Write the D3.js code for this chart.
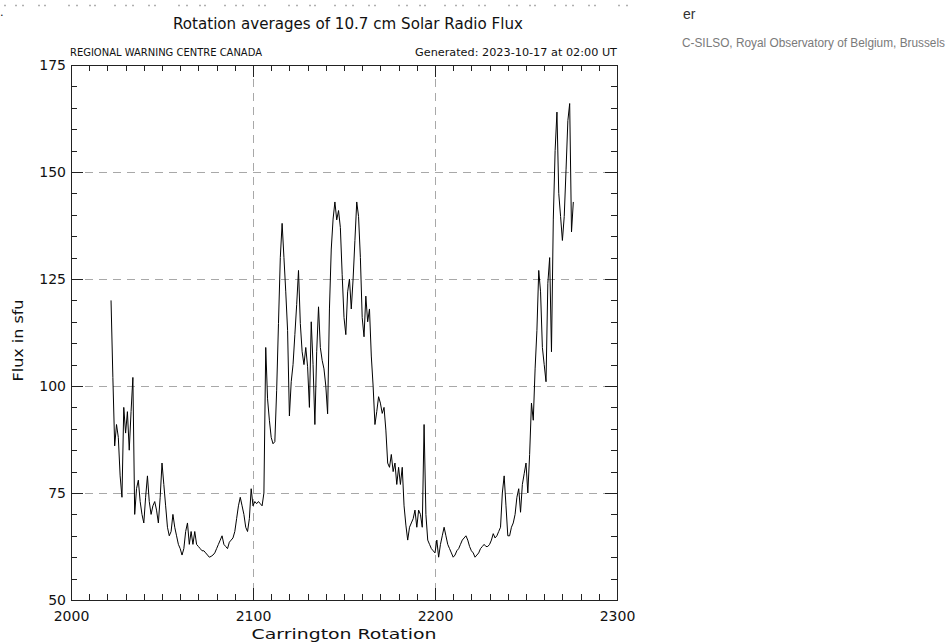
<!DOCTYPE html>
<html>
<head>
<meta charset="utf-8">
<script src="https://cdn.jsdelivr.net/npm/d3@7"></script>
<style>
  html, body { margin: 0; padding: 0; background: #fff; }
  svg { display: block; }
  .idl { font-family: "DejaVu Sans", sans-serif; fill: #111; }
</style>
</head>
<body>
<svg id="chart" width="950" height="643"></svg>
<script>
// Rotation-averaged 10.7 cm solar radio flux, one value per Carrington rotation
const firstRotation = 2022;
const fluxValues = [
  120, 102, 86, 91, 88, 79, 74, 95, 89, 94, 85, 94, 102, 70, 76, 78, 73, 70, 68, 74,
  79, 73, 70, 72, 73, 71, 68, 74, 82, 77, 72, 67, 65, 66, 70, 67, 65, 63, 62, 60.5,
  62, 66, 68, 63, 66, 63, 66, 63, 62.5, 62, 61.5, 61.5, 61, 60.5, 60, 60.2, 60.5, 61, 62, 63,
  64, 65, 63, 62.5, 62, 63.5, 64, 64.5, 66, 69, 72, 74, 72, 70, 67, 66, 69, 76, 72, 73,
  72.5, 73, 72.5, 72, 75, 109, 97, 92, 88, 86.5, 87, 99, 114.6, 130, 138, 130, 122, 113, 93, 101,
  105, 112, 119, 127, 114.6, 108, 105, 109, 104.5, 95, 115, 105, 91, 108, 118.5, 109, 106, 104, 100, 93.5,
  118, 132, 139, 143, 138.8, 141, 137, 126, 116, 112, 122, 125, 118, 125, 134, 143, 139.6, 130, 116, 111.5,
  121, 115, 118, 107, 100, 91, 94, 97.5, 96, 93.6, 95, 89.7, 82, 81, 84, 80, 82, 77, 81, 77,
  81, 72, 67.5, 64, 67, 68, 69, 71, 67, 71, 70, 67, 91, 70, 64, 63, 62, 61.5, 61, 64,
  60, 63, 65, 67, 65, 63, 62, 61, 60, 60.5, 61.5, 62, 63, 64, 64.5, 65, 64, 62.5, 61.5, 61,
  60, 60.5, 61, 62, 62.5, 63, 62.5, 62.5, 63, 64, 65.5, 64.5, 65, 66, 67, 75, 79, 72, 65, 65,
  67, 68, 70, 74, 76, 70.5, 77, 79.5, 82, 75, 84, 96, 92, 104, 113, 127, 122, 109, 105, 101,
  124, 130, 108, 139, 155, 164, 145, 139.6, 134, 139.6, 150.5, 162, 166, 136, 143
];

// Axis ranges and labelled ticks
const rotationDomain = [2000, 2300];
const fluxDomain = [50, 175];
const rotationTickLabels = [2000, 2100, 2200, 2300];
const fluxTickLabels = [50, 75, 100, 125, 150, 175];
const rotationGrid = [2100, 2200];
const fluxGrid = [75, 100, 125, 150];

const titleText = "Rotation averages of 10.7 cm Solar Radio Flux";
const leftCaption = "REGIONAL WARNING CENTRE CANADA";
const rightCaption = "Generated: 2023-10-17 at 02:00 UT";
const xTitle = "Carrington Rotation";
const yTitle = "Flux in sfu";

const series = fluxValues.map((v, i) => ({ rotation: firstRotation + i, flux: v }));

const svg = d3.select("#chart");
const plot = { left: 71, right: 617, top: 65, bottom: 600 };

const x = d3.scaleLinear().domain(rotationDomain).range([plot.left, plot.right]);
const y = d3.scaleLinear().domain(fluxDomain).range([plot.bottom, plot.top]);

// Page fragments around the image: a faint strip along the top edge and side notes
svg.append("line")
  .attr("x1", 4).attr("x2", 628).attr("y1", 5.5).attr("y2", 5.5)
  .attr("stroke", "#b0b0b0").attr("stroke-width", 1.5)
  .attr("stroke-dasharray", "2,9,2,5,2,14,2,4,2,22,2,6,2,11,2,3,2,18");

svg.append("text")
  .attr("x", 0).attr("y", 16)
  .style("font-family", "Arial, 'Liberation Sans', sans-serif")
  .style("font-size", "13px").style("fill", "#222")
  .text(".");

svg.append("text")
  .attr("x", 683).attr("y", 19)
  .style("font-family", "Arial, 'Liberation Sans', sans-serif")
  .style("font-size", "14px").style("fill", "#333")
  .text("er");

svg.append("text")
  .attr("x", 682).attr("y", 47)
  .style("font-family", "Arial, 'Liberation Sans', sans-serif")
  .style("font-size", "12px").style("fill", "#7a7a7a")
  .attr("textLength", 263).attr("lengthAdjust", "spacingAndGlyphs")
  .text("C-SILSO, Royal Observatory of Belgium, Brussels");

// Titles
svg.append("text").attr("class", "idl")
  .attr("x", (plot.left + plot.right) / 2 + 4).attr("y", 29)
  .attr("text-anchor", "middle")
  .attr("textLength", 350).attr("lengthAdjust", "spacingAndGlyphs")
  .style("font-size", "15px")
  .text(titleText);

svg.append("text").attr("class", "idl")
  .attr("x", 70).attr("y", 56)
  .attr("textLength", 192).attr("lengthAdjust", "spacingAndGlyphs")
  .style("font-size", "10.5px")
  .text(leftCaption);

svg.append("text").attr("class", "idl")
  .attr("x", plot.right).attr("y", 56)
  .attr("text-anchor", "end")
  .attr("textLength", 202).attr("lengthAdjust", "spacingAndGlyphs")
  .style("font-size", "10.5px")
  .text(rightCaption);

// Dashed reference grid
const grid = svg.append("g")
  .attr("stroke", "#a8a8a8").attr("stroke-width", 1)
  .attr("stroke-dasharray", "8,6").attr("shape-rendering", "crispEdges");
grid.selectAll("line.h").data(fluxGrid).join("line").attr("class", "h")
  .attr("x1", plot.left).attr("x2", plot.right)
  .attr("y1", d => Math.round(y(d)) + 0.5).attr("y2", d => Math.round(y(d)) + 0.5);
grid.selectAll("line.v").data(rotationGrid).join("line").attr("class", "v")
  .attr("y1", plot.top).attr("y2", plot.bottom)
  .attr("x1", d => Math.round(x(d)) + 0.5).attr("x2", d => Math.round(x(d)) + 0.5);

// Axes: minor ticks every 10 rotations / 5 sfu, longer major ticks with labels
const minorX = d3.range(rotationDomain[0], rotationDomain[1] + 1, 10);
const minorY = d3.range(fluxDomain[0], fluxDomain[1] + 1, 5);

function styleAxis(g) {
  g.select(".domain").remove();
  g.selectAll("line").attr("stroke", "#222").attr("shape-rendering", "crispEdges");
  g.selectAll("text").attr("class", "idl")
    .style("font-size", "14px")
    .style("font-family", "'DejaVu Sans', sans-serif").attr("fill", "#111");
}

svg.append("g").attr("transform", `translate(0,${plot.bottom})`)
  .call(d3.axisBottom(x).tickValues(minorX).tickSize(-6).tickFormat(""))
  .call(styleAxis);
svg.append("g").attr("transform", `translate(0,${plot.bottom})`)
  .call(d3.axisBottom(x).tickValues(rotationTickLabels).tickSize(-12).tickFormat(d3.format("d")))
  .call(styleAxis)
  .call(g => g.selectAll("text").attr("y", 11).attr("dy", "0.71em"));

svg.append("g").attr("transform", `translate(0,${plot.top})`)
  .call(d3.axisTop(x).tickValues(minorX).tickSize(-6).tickFormat(""))
  .call(styleAxis);
svg.append("g").attr("transform", `translate(0,${plot.top})`)
  .call(d3.axisTop(x).tickValues(rotationTickLabels).tickSize(-12).tickFormat(""))
  .call(styleAxis);

svg.append("g").attr("transform", `translate(${plot.left},0)`)
  .call(d3.axisLeft(y).tickValues(minorY).tickSize(-6).tickFormat(""))
  .call(styleAxis);
svg.append("g").attr("transform", `translate(${plot.left},0)`)
  .call(d3.axisLeft(y).tickValues(fluxTickLabels).tickSize(-12).tickFormat(d3.format("d")))
  .call(styleAxis)
  .call(g => g.selectAll("text").attr("x", -5).attr("dy", "0.3em"));

svg.append("g").attr("transform", `translate(${plot.right},0)`)
  .call(d3.axisRight(y).tickValues(minorY).tickSize(-6).tickFormat(""))
  .call(styleAxis);
svg.append("g").attr("transform", `translate(${plot.right},0)`)
  .call(d3.axisRight(y).tickValues(fluxTickLabels).tickSize(-12).tickFormat(""))
  .call(styleAxis);

// Plot frame
svg.append("rect")
  .attr("x", plot.left + 0.5).attr("y", plot.top + 0.5)
  .attr("width", plot.right - plot.left).attr("height", plot.bottom - plot.top)
  .attr("fill", "none").attr("stroke", "#222").attr("stroke-width", 1)
  .attr("shape-rendering", "crispEdges");

// Axis titles
svg.append("text").attr("class", "idl")
  .attr("x", (plot.left + plot.right) / 2).attr("y", 639)
  .attr("text-anchor", "middle")
  .attr("textLength", 185).attr("lengthAdjust", "spacingAndGlyphs")
  .style("font-size", "14px")
  .text(xTitle);

svg.append("text").attr("class", "idl")
  .attr("transform", `translate(23,${(plot.top + plot.bottom) / 2 + 8}) rotate(-90)`)
  .attr("text-anchor", "middle")
  .attr("textLength", 82).attr("lengthAdjust", "spacingAndGlyphs")
  .style("font-size", "14px")
  .text(yTitle);

// Flux curve
const line = d3.line().x(d => x(d.rotation)).y(d => y(d.flux));
svg.append("path")
  .datum(series)
  .attr("fill", "none")
  .attr("stroke", "#000")
  .attr("stroke-width", 1)
  .attr("stroke-linejoin", "miter")
  .attr("d", line);
</script>
</body>
</html>
